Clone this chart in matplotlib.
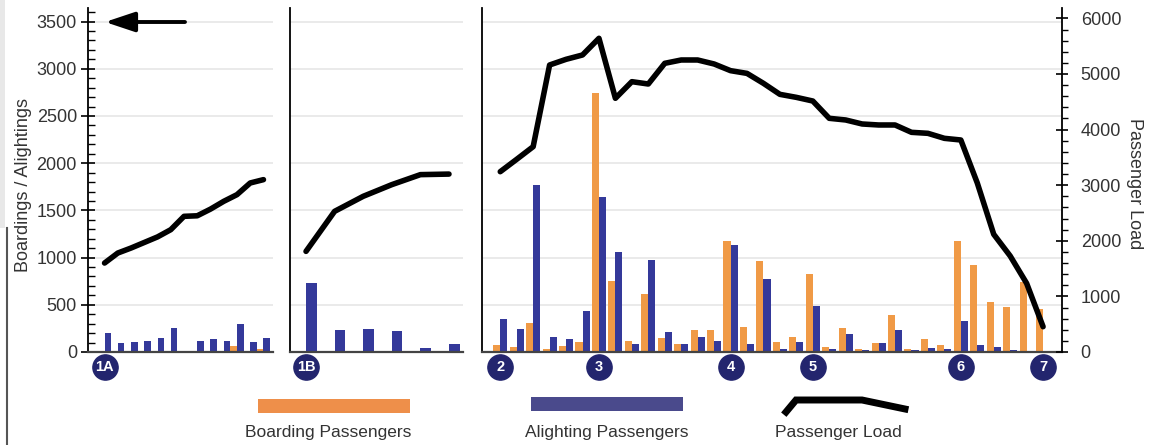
import numpy as np
import matplotlib
matplotlib.use("Agg")
import matplotlib.pyplot as plt
from matplotlib.ticker import MultipleLocator
from matplotlib.transforms import blended_transform_factory
from matplotlib.patches import Rectangle, FancyArrowPatch
from matplotlib.lines import Line2D

plt.rcParams['font.family'] = ['Liberation Sans', 'DejaVu Sans']

# ---------------- data ----------------
# Segment 1A (13 stops)
board_1A = [5, 5, 5, 5, 5, 5, 5, 5, 10, 10, 65, 15, 35]
alight_1A = [200, 100, 105, 120, 145, 250, 15, 120, 140, 120, 300, 105, 145]
load_1A = [1600, 1780, 1870, 1970, 2070, 2200, 2440, 2450, 2570, 2710, 2830, 3040, 3100]
labels_1A = {0: "1A"}

# Segment 1B (6 stops)
board_1B = [10, 10, 10, 10, 10, 10]
alight_1B = [726, 233, 240, 226, 42, 87]
load_1B = [1810, 2530, 2800, 3010, 3190, 3200]
labels_1B = {0: "1B"}

# Main segment 2-7 (34 stops)
board_main = [77, 53, 303, 35, 60, 106, 2740, 754, 120, 613, 148, 88, 236, 236,
              1180, 268, 965, 102, 158, 824, 53, 254, 32, 95, 387, 35, 137, 70,
              1180, 923, 525, 475, 746, 454]
alight_main = [349, 246, 1768, 155, 137, 430, 1637, 1063, 88, 975, 211, 88, 155, 113,
               1134, 85, 771, 35, 102, 489, 35, 190, 21, 95, 236, 21, 42, 35,
               331, 70, 49, 25, 14, 10]
load_main = [3243, 3466, 3693, 5162, 5264, 5342, 5642, 4563, 4862, 4820, 5192, 5252,
             5252, 5180, 5060, 5011, 4832, 4634, 4580, 4514, 4203, 4173, 4101, 4083,
             4083, 3951, 3933, 3843, 3813, 3040, 2117, 1727, 1235, 455]
labels_main = {0: "2", 6: "3", 14: "4", 19: "5", 28: "6", 33: "7"}

left_ticks = list(range(0, 3501, 500))
right_ticks = list(range(0, 6001, 1000))

# ---------------- style ----------------
ORANGE = '#F09A46'
BLUE = '#34399A'
NAVY = '#23256E'
GRID = '#e4e4e4'
TXT = '#333333'

W, H = 1149, 445
def fx(px): return px / W
def fy(py): return 1 - py / H

fig = plt.figure(figsize=(W / 100, H / 100), dpi=100)
fig.patch.set_facecolor('white')

bottom = fy(352)
height = fy(8) - bottom
LEFT_MAX = 3644
RIGHT_MAX = 6187

panels = [
    dict(l=88, r=273, xlim=(-1.25, 12.72), w=0.5, b=board_1A, a=alight_1A, ld=load_1A, lab=labels_1A),
    dict(l=290, r=463, xlim=(-0.56, 5.49), w=0.37, b=board_1B, a=alight_1B, ld=load_1B, lab=labels_1B),
    dict(l=482, r=1062, xlim=(-1.11, 34.15), w=0.43, b=board_main, a=alight_main, ld=load_main, lab=labels_main),
]

axes = []
for k, p in enumerate(panels):
    ax = fig.add_axes([fx(p['l']), bottom, fx(p['r'] - p['l']), height])
    ax.set_xlim(*p['xlim'])
    ax.set_ylim(0, LEFT_MAX)
    x = np.arange(len(p['b']))
    w = p['w']
    ax.bar(x - w / 2, p['b'], w, color=ORANGE, zorder=2, linewidth=0)
    ax.bar(x + w / 2, p['a'], w, color=BLUE, zorder=2, linewidth=0)
    ax.set_yticks(left_ticks)
    ax.yaxis.grid(True, which='major', color=GRID, lw=1.1)
    ax.set_axisbelow(True)
    ax.set_xticks([])
    for s in ['top', 'right']:
        ax.spines[s].set_visible(False)
    ax.spines['left'].set_color('black')
    ax.spines['left'].set_linewidth(1.3)
    ax.spines['bottom'].set_color('#444444')
    ax.spines['bottom'].set_linewidth(1.6)

    tw = ax.twinx()
    tw.set_ylim(0, RIGHT_MAX)
    tw.plot(x, p['ld'], color='black', lw=4.0, solid_joinstyle='round',
            solid_capstyle='round', zorder=3)
    tw.set_xlim(*p['xlim'])
    for s in ['top', 'left', 'bottom']:
        tw.spines[s].set_visible(False)

    # tick settings after twinx (twinx resets left ticks on ax)
    if k == 0:
        ax.yaxis.set_minor_locator(MultipleLocator(100))
        ax.tick_params(axis='y', which='major', left=True, labelleft=True, direction='inout',
                       length=10, width=1.2, labelsize=13, labelcolor=TXT, pad=3)
        ax.tick_params(axis='y', which='minor', left=True, direction='in', length=5, width=1)
    else:
        ax.tick_params(axis='y', which='both', left=False, labelleft=False,
                       right=False, labelright=False)
    if k == 2:
        tw.spines['right'].set_color('black')
        tw.spines['right'].set_linewidth(1.3)
        tw.set_yticks(right_ticks)
        tw.yaxis.set_minor_locator(MultipleLocator(200))
        tw.tick_params(axis='y', which='major', direction='inout', length=9, width=1.2,
                       labelsize=13, labelcolor=TXT, pad=9)
        tw.tick_params(axis='y', which='minor', direction='out', length=4, width=1)
    else:
        tw.spines['right'].set_visible(False)
        tw.tick_params(axis='y', which='both', right=False, labelright=False,
                       left=False, labelleft=False)

    # stop markers
    trans = blended_transform_factory(ax.transData, ax.transAxes)
    for i, lab in p['lab'].items():
        ax.scatter([i], [-0.044], s=330, color=NAVY, transform=trans, clip_on=False, zorder=6)
        ax.text(i, -0.044, lab, transform=trans, ha='center', va='center', color='white',
                fontsize=10.5, fontweight='bold', zorder=7, clip_on=False)
    axes.append(ax)

# axis titles
fig.text(fx(23), fy(185), 'Boardings / Alightings', rotation=90, ha='center', va='center',
         fontsize=13, color=TXT)
fig.text(fx(1135), fy(184), 'Passenger Load', rotation=270, ha='center', va='center',
         fontsize=13, color=TXT)

# arrow pointing left (towards left axis)
arr = FancyArrowPatch((fx(185), fy(22)), (fx(105), fy(22)), transform=fig.transFigure,
                      arrowstyle='-|>,head_length=1.8,head_width=0.6', mutation_scale=10,
                      color='black', lw=2.8, shrinkA=0, shrinkB=0)
fig.add_artist(arr)

# legend
fig.add_artist(Rectangle((fx(258), fy(413)), fx(152), 14 / H, transform=fig.transFigure,
                         color='#EE8F4A', lw=0))
fig.add_artist(Rectangle((fx(531), fy(411)), fx(152), 14 / H, transform=fig.transFigure,
                         color='#4A4A8C', lw=0))
fig.add_artist(Line2D([fx(786), fx(796), fx(862), fx(905)], [fy(412), fy(400), fy(400), fy(409)],
                      transform=fig.transFigure, color='black', lw=5, solid_joinstyle='miter'))
fig.text(fx(328), fy(432), 'Boarding Passengers', ha='center', va='center', fontsize=12.5, color=TXT)
fig.text(fx(607), fy(432), 'Alighting Passengers', ha='center', va='center', fontsize=12.5, color=TXT)
fig.text(fx(838), fy(432), 'Passenger Load', ha='center', va='center', fontsize=12.5, color=TXT)

# left page edge artefacts
fig.add_artist(Rectangle((0, fy(228)), fx(5), 228 / H, transform=fig.transFigure,
                         color='#e8e8e8', lw=0))
fig.add_artist(Line2D([fx(6.5), fx(6.5)], [fy(228), 0], transform=fig.transFigure,
                      color='#555555', lw=1.5))

fig.savefig('out.png', dpi=100)
